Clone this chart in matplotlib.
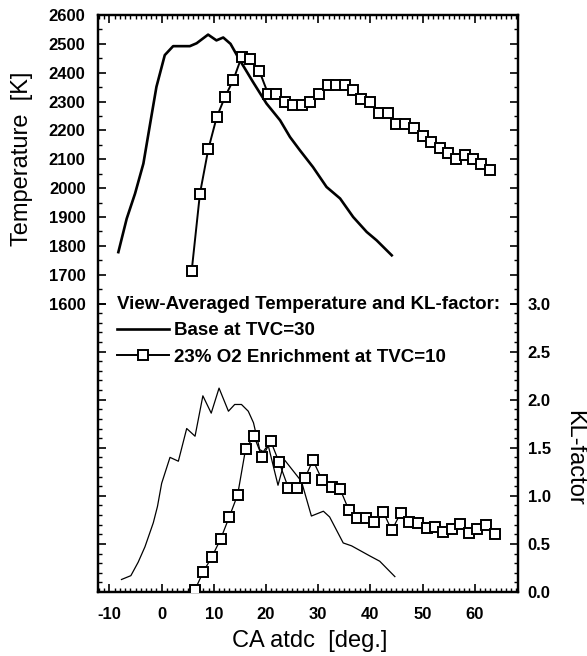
import numpy as np
import matplotlib
matplotlib.use("Agg")
import matplotlib.pyplot as plt
from matplotlib.ticker import FixedLocator, MultipleLocator, FormatStrFormatter

plt.rcParams['font.family'] = ['Liberation Sans', 'DejaVu Sans']
plt.rcParams['axes.unicode_minus'] = False

# ---- data ----
base_T_x = [-8.3, -6.7, -5.1, -3.5, -2.2, -1.0, 0.6, 2.2, 5.4, 6.7, 8.9, 10.5, 11.8,
            13.2, 14.6, 17.5, 20.1, 22.7, 24.6, 26.5, 29.0, 31.6, 34.2, 36.7, 39.3, 41.2, 44.1]
base_T = [1778, 1894, 1981, 2085, 2224, 2351, 2461, 2492, 2492, 2502, 2532, 2512, 2522,
          2500, 2455, 2368, 2293, 2235, 2177, 2131, 2073, 2004, 1964, 1900, 1848, 1819, 1767]

o2_T_x = [5.75, 7.34, 8.93, 10.54, 12.13, 13.72, 15.33, 16.92, 18.7, 20.42, 21.9, 23.62,
          25.21, 26.82, 28.41, 30.19, 31.8, 33.39, 35.11, 36.7, 38.3, 39.9, 41.63, 43.3,
          44.89, 46.61, 48.4, 50.0, 51.72, 53.31, 54.9, 56.51, 58.1, 59.69, 61.3, 63.0]
o2_T = [1712, 1981, 2134, 2245, 2316, 2374, 2455, 2446, 2407, 2326, 2326, 2297,
        2287, 2287, 2299, 2326, 2357, 2357, 2357, 2340, 2308, 2299, 2259, 2259,
        2222, 2222, 2210, 2181, 2160, 2139, 2122, 2102, 2114, 2102, 2085, 2062]

base_KL_x = [-7.7, -5.9, -4.5, -3.2, -1.6, -0.8, 0.0, 1.6, 3.2, 4.8, 6.4, 7.9, 9.5, 11.0,
             12.8, 14.0, 15.3, 16.6, 17.6, 18.2, 18.8, 19.5, 20.4, 22.3, 23.6, 26.8, 28.7,
             31.0, 32.2, 34.8, 36.4, 39.9, 41.8, 44.7]
base_KL = [0.13, 0.17, 0.31, 0.47, 0.72, 0.89, 1.13, 1.40, 1.36, 1.70, 1.62, 2.04, 1.86, 2.12,
           1.88, 1.95, 1.95, 1.88, 1.76, 1.62, 1.48, 1.46, 1.53, 1.11, 1.37, 1.15, 0.79,
           0.84, 0.78, 0.51, 0.48, 0.375, 0.32, 0.16]

o2_KL_x = [6.36, 7.97, 9.58, 11.3, 12.95, 14.56, 16.1, 17.7, 19.3, 20.9, 22.5, 24.3,
           26.0, 27.5, 29.0, 30.8, 32.6, 34.2, 35.9, 37.5, 39.1, 40.7, 42.5, 44.1,
           45.8, 47.4, 49.2, 50.8, 52.4, 53.9, 55.6, 57.1, 58.9, 60.5, 62.1, 63.9]
o2_KL = [0.02, 0.21, 0.36, 0.55, 0.78, 1.01, 1.49, 1.62, 1.40, 1.57, 1.35, 1.08,
         1.08, 1.19, 1.37, 1.16, 1.09, 1.07, 0.85, 0.77, 0.77, 0.73, 0.83, 0.64,
         0.82, 0.73, 0.72, 0.67, 0.68, 0.62, 0.66, 0.71, 0.61, 0.66, 0.70, 0.60]

x_ticks = [-10, 0, 10, 20, 30, 40, 50, 60]
T_ticks = [1600, 1700, 1800, 1900, 2000, 2100, 2200, 2300, 2400, 2500, 2600]
KL_ticks = [0.0, 0.5, 1.0, 1.5, 2.0, 2.5, 3.0]

legend_title = "View-Averaged Temperature and KL-factor:"
label_base = "Base at TVC=30"
label_o2 = "23% O2 Enrichment at TVC=10"

# ---- figure ----
W, H = 587, 656
fig = plt.figure(figsize=(W / 100, H / 100), dpi=100)
ax = fig.add_axes([98 / W, 1 - 592 / H, 420 / W, 577 / H])
ax2 = ax.twinx()

ax.set_xlim(-12.2, 68.3)
ax.set_ylim(600, 2600)
ax2.set_ylim(0, 6)

l_base, = ax.plot(base_T_x, base_T, color='black', lw=1.9, zorder=3)
l_o2, = ax.plot(o2_T_x, o2_T, color='black', lw=1.4, marker='s', ms=7,
                mfc='white', mec='black', mew=1.4, zorder=4)

ax2.plot(base_KL_x, base_KL, color='black', lw=0.9, zorder=3)
ax2.plot(o2_KL_x, o2_KL, color='black', lw=0.9, marker='s', ms=7,
         mfc='white', mec='black', mew=1.4, zorder=4)

# ticks
ax.xaxis.set_major_locator(FixedLocator(x_ticks))
ax.xaxis.set_minor_locator(MultipleLocator(1))
ax.yaxis.set_major_locator(FixedLocator(T_ticks))
ax.yaxis.set_minor_locator(FixedLocator(np.arange(1600, 2601, 50)))
ax2.yaxis.set_major_locator(FixedLocator(KL_ticks))
ax2.yaxis.set_minor_locator(FixedLocator(np.arange(0, 3.01, 0.1)))
ax2.yaxis.set_major_formatter(FormatStrFormatter('%.1f'))

ax.tick_params(axis='x', which='both', direction='in', top=True, bottom=True)
ax.tick_params(axis='y', which='both', direction='in', left=True, right=True,
               labelleft=True, labelright=False)
ax2.tick_params(axis='y', which='both', direction='in', left=True, right=True,
                labelleft=False, labelright=True)
for a in (ax, ax2):
    a.tick_params(which='major', length=6, width=1.2, labelsize=12)
    a.tick_params(which='minor', length=3, width=1.0)
ax.tick_params(axis='x', pad=11)
ax.tick_params(axis='y', pad=9)
ax2.tick_params(axis='y', pad=7)
for lab in ax.get_xticklabels() + ax.get_yticklabels() + ax2.get_yticklabels():
    lab.set_fontweight('bold')

for a in (ax, ax2):
    for s in a.spines.values():
        s.set_linewidth(1.6)

# axis labels
fig.text(22 / W, 1 - 159 / H, "Temperature  [K]", rotation=90, ha='center', va='center', fontsize=17)
fig.text(574 / W, 1 - 458 / H, "KL-factor", rotation=270, ha='center', va='center', fontsize=17)
fig.text(310 / W, 1 - 641 / H, "CA atdc  [deg.]", ha='center', va='center', fontsize=17)

# legend
leg = ax.legend([l_base, l_o2], [label_base, label_o2], title=legend_title,
                loc='upper left', bbox_to_anchor=(0.045, 0.513), frameon=False,
                borderpad=0, borderaxespad=0, handlelength=2.8, handletextpad=0.25,
                labelspacing=0.5, alignment='left',
                prop={'weight': 'bold', 'size': 13.5},
                title_fontproperties={'weight': 'bold', 'size': 13.5})
leg.set_zorder(10)

fig.savefig("out.png", dpi=100)
